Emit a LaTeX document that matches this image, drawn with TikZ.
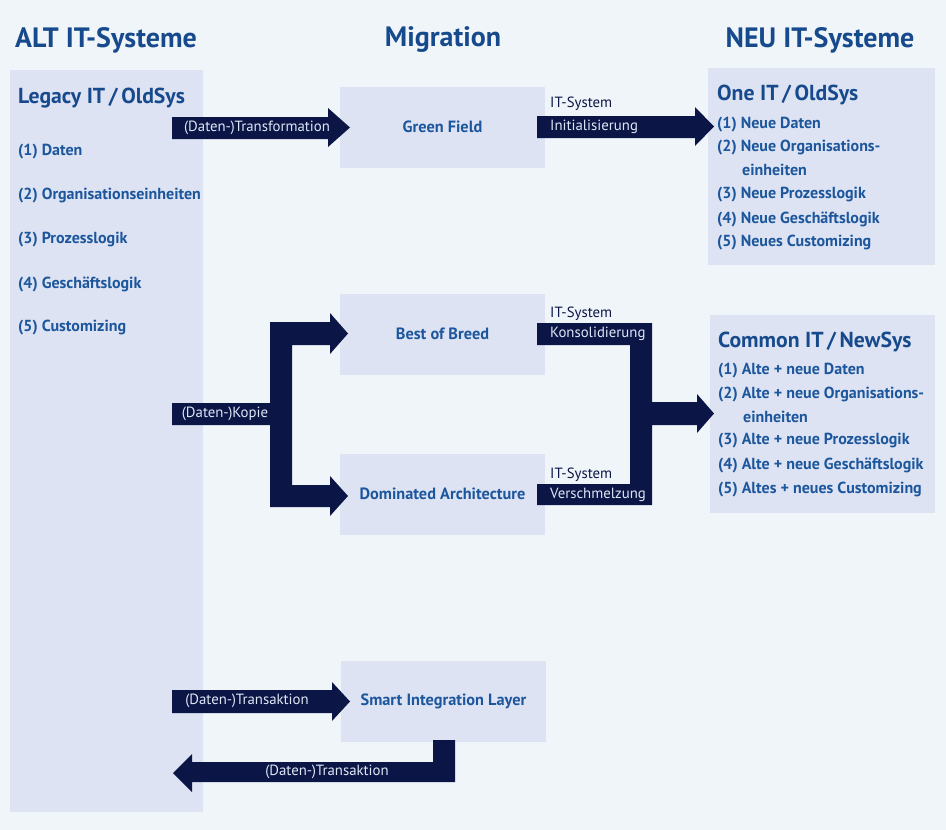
\documentclass[tikz,border=0pt]{standalone}
\usepackage{fontspec}
\setmainfont{PT Sans}
\definecolor{bgc}{RGB}{240,245,250}
\definecolor{boxc}{RGB}{221,227,243}
\definecolor{navy}{RGB}{12,22,70}
\definecolor{bluet}{RGB}{28,86,156}
\definecolor{headc}{RGB}{22,74,140}
\definecolor{lbl}{RGB}{222,230,246}
\tikzset{
  box/.style={fill=boxc, draw=none, inner sep=0pt},
  midbox/.style={box, minimum width=205pt, minimum height=81pt, text=bluet, font=\fontsize{16.3}{18}\selectfont\bfseries},
  arr/.style={fill=navy, draw=none},
  head/.style={text=headc, font=\fontsize{28}{32}\selectfont\bfseries, inner sep=0pt},
  systitle/.style={anchor=west, text=headc, font=\fontsize{21.7}{25}\selectfont\bfseries, inner sep=0pt},
  itm/.style={anchor=west, text=bluet, font=\fontsize{16}{18}\selectfont\bfseries, inner sep=0pt},
  wlbl/.style={text=lbl, font=\fontsize{14.8}{17}\selectfont, inner sep=0pt},
  nlbl/.style={anchor=west, text=navy, font=\fontsize{14.8}{17}\selectfont, inner sep=0pt},
}
\begin{document}
\begin{tikzpicture}[x=1pt,y=-1pt]
\fill[bgc] (0,0) rectangle (946,830);
\useasboundingbox (0,0) rectangle (946,830);

% headings
\node[head] (h1) at (106,40) {ALT IT-Systeme};
\node[head] (h2) at (443,40) {Migration};
\node[head] (h3) at (820,40) {NEU IT-Systeme};

% left column
\node[box, minimum width=193pt, minimum height=742pt, anchor=north west] (alt) at (10,70) {};
\node[systitle] (lt) at (18,98) {Legacy IT\,/\,OldSys};
\node[itm] (l1) at (18,152) {(1) Daten};
\node[itm] (l2) at (18,196) {(2) Organisationseinheiten};
\node[itm] (l3) at (18,240) {(3) Prozesslogik};
\node[itm] (l4) at (18,284) {(4) Geschäftslogik};
\node[itm] (l5) at (18,328) {(5) Customizing};

% middle boxes
\node[midbox] (gf) at (442.5,127) {Green Field};
\node[midbox] (bb) at (442.5,334) {Best of Breed};
\node[midbox] (da) at (442.5,494) {Dominated Architecture};
\node[midbox] (sil) at (443.5,701.5) {Smart Integration Layer};

% right boxes
\node[box, minimum width=227pt, minimum height=197pt, anchor=north west] (one) at (708,68) {};
\node[systitle] (ot) at (717,95) {One IT\,/\,OldSys};
\node[itm] (o1) at (717,125) {(1) Neue Daten};
\node[itm] (o2) at (717,148) {(2) Neue Organisations-};
\node[itm] (o2b) at (742,170) {einheiten};
\node[itm] (o3) at (717,195) {(3) Neue Prozesslogik};
\node[itm] (o4) at (717,219) {(4) Neue Geschäftslogik};
\node[itm] (o5) at (717,243) {(5) Neues Customizing};

\node[box, minimum width=225pt, minimum height=198pt, anchor=north west] (com) at (710,315) {};
\node[systitle] (ct) at (718,342) {Common IT\,/\,NewSys};
\node[itm] (c1) at (718,371) {(1) Alte + neue Daten};
\node[itm] (c2) at (718,395) {(2) Alte + neue Organisations-};
\node[itm] (c2b) at (743,417) {einheiten};
\node[itm] (c3) at (718,441) {(3) Alte + neue Prozesslogik};
\node[itm] (c4) at (718,465) {(4) Alte + neue Geschäftslogik};
\node[itm] (c5) at (718,490) {(5) Altes + neues Customizing};

% arrow: Transformation
\fill[arr] (172,117) -- (328,117) -- (328,108) -- (350,127.5) -- (328,147) -- (328,139) -- (172,139) -- cycle;
\node[wlbl] (tr) at (257,128) {(Daten-)Transformation};

% arrow: Initialisierung
\fill[arr] (537,116) -- (695,116) -- (695,107) -- (714,126.5) -- (695,146) -- (695,138) -- (537,138) -- cycle;
\node[nlbl] (it1) at (550,104) {IT-System};
\node[wlbl, anchor=west] (ini) at (550,127) {Initialisierung};

% bracket: Kopie
\fill[arr] (172,403) -- (270,403) -- (270,322) -- (330,322) -- (330,313) -- (348,333.5) -- (330,354) -- (330,345)
  -- (292,345) -- (292,485) -- (330,485) -- (330,476) -- (348,496) -- (330,516) -- (330,507) -- (270,507) -- (270,425) -- (172,425) -- cycle;
\node[wlbl] (kop) at (225,414) {(Daten-)Kopie};

% bracket: Konsolidierung / Verschmelzung
\fill[arr] (537,323) -- (652,323) -- (652,402) -- (697,402) -- (697,394) -- (714,413.5) -- (697,433) -- (697,425)
  -- (652,425) -- (652,505) -- (537,505) -- (537,484) -- (630,484) -- (630,345) -- (537,345) -- cycle;
\node[nlbl] (it2) at (550,314) {IT-System};
\node[wlbl, anchor=west] (kon) at (550,334) {Konsolidierung};
\node[nlbl] (it3) at (550,475) {IT-System};
\node[wlbl, anchor=west] (ver) at (550,494.5) {Verschmelzung};

% arrow: Transaktion in
\fill[arr] (172,690) -- (332,690) -- (332,682) -- (350,701.5) -- (332,721) -- (332,713) -- (172,713) -- cycle;
\node[wlbl] (ta1) at (247,701) {(Daten-)Transaktion};

% arrow: Transaktion back
\fill[arr] (433,740) -- (455,740) -- (455,782) -- (192,782) -- (192,792) -- (173,773) -- (192,754) -- (192,762) -- (433,762) -- cycle;
\node[wlbl] (ta2) at (327,772) {(Daten-)Transaktion};
\end{tikzpicture}
\end{document}
